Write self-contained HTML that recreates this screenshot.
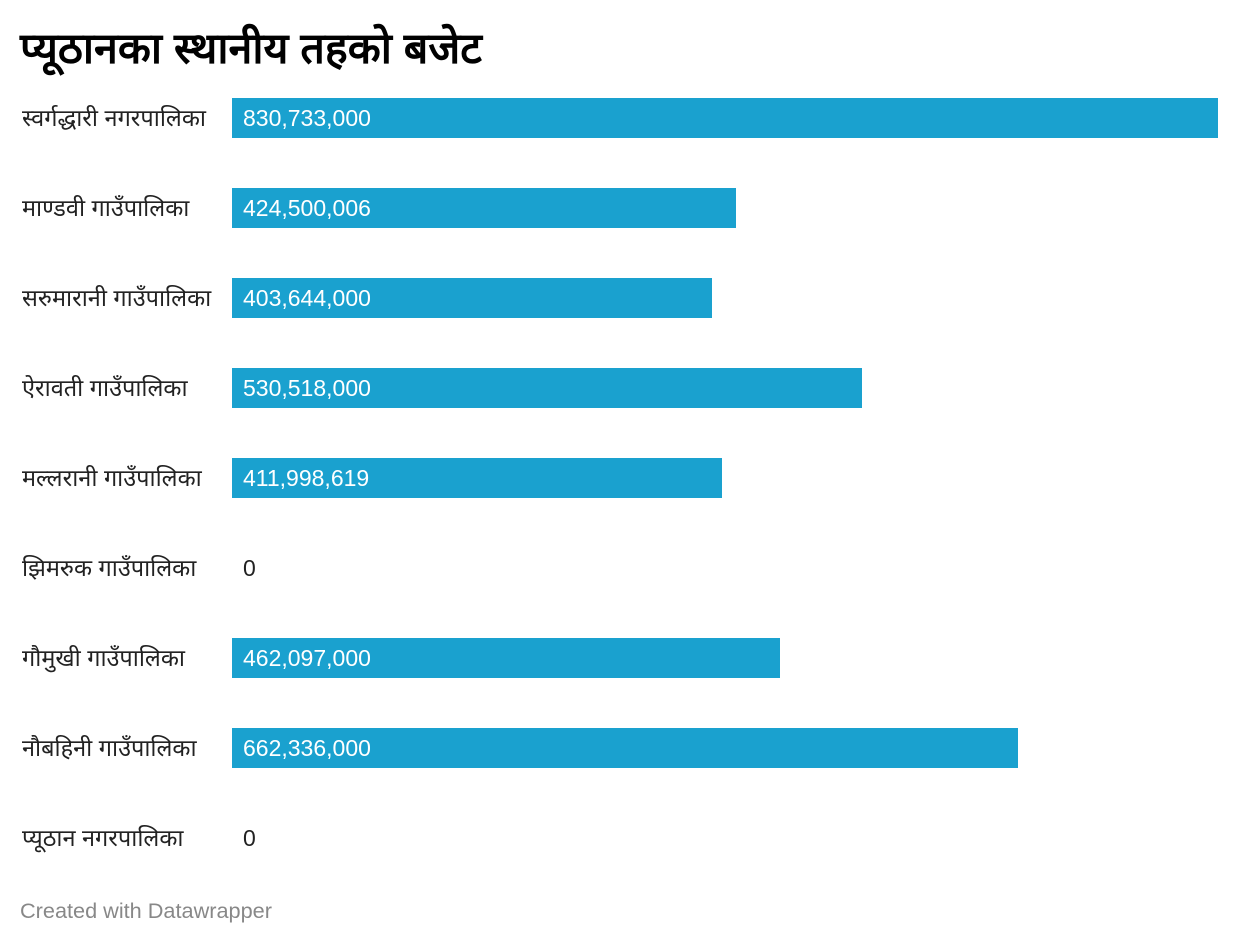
<!DOCTYPE html>
<html><head><meta charset="utf-8"><style>
body{margin:0;width:1240px;height:944px;background:#fff;font-family:"Liberation Sans",sans-serif;position:relative;overflow:hidden}
h1{position:absolute;left:20px;top:19px;margin:0;font-size:43px;font-weight:bold;color:#000;line-height:60px;white-space:nowrap}
.l{position:absolute;left:22px;font-size:23.5px;color:#222;line-height:40px;white-space:nowrap}
.b{position:absolute;left:232px;height:40px;background:#1aa1cf}
.v{position:absolute;left:243px;font-size:23px;line-height:40px;color:#fff}
.z{color:#222}
.f{position:absolute;left:20px;top:898px;font-size:21.7px;color:#888}
</style></head><body>
<h1>प्यूठानका स्थानीय तहको बजेट</h1>
<div class="l" style="top:98px">स्वर्गद्धारी नगरपालिका</div><div class="b" style="top:98px;width:986px"></div><div class="v" style="top:98px">830,733,000</div>
<div class="l" style="top:188px">माण्डवी गाउँपालिका</div><div class="b" style="top:188px;width:504px"></div><div class="v" style="top:188px">424,500,006</div>
<div class="l" style="top:278px">सरुमारानी गाउँपालिका</div><div class="b" style="top:278px;width:480px"></div><div class="v" style="top:278px">403,644,000</div>
<div class="l" style="top:368px">ऐरावती गाउँपालिका</div><div class="b" style="top:368px;width:630px"></div><div class="v" style="top:368px">530,518,000</div>
<div class="l" style="top:458px">मल्लरानी गाउँपालिका</div><div class="b" style="top:458px;width:490px"></div><div class="v" style="top:458px">411,998,619</div>
<div class="l" style="top:548px">झिमरुक गाउँपालिका</div><div class="v z" style="top:548px">0</div>
<div class="l" style="top:638px">गौमुखी गाउँपालिका</div><div class="b" style="top:638px;width:548px"></div><div class="v" style="top:638px">462,097,000</div>
<div class="l" style="top:728px">नौबहिनी गाउँपालिका</div><div class="b" style="top:728px;width:786px"></div><div class="v" style="top:728px">662,336,000</div>
<div class="l" style="top:818px">प्यूठान नगरपालिका</div><div class="v z" style="top:818px">0</div>
<div class="f">Created with Datawrapper</div>
</body></html>
